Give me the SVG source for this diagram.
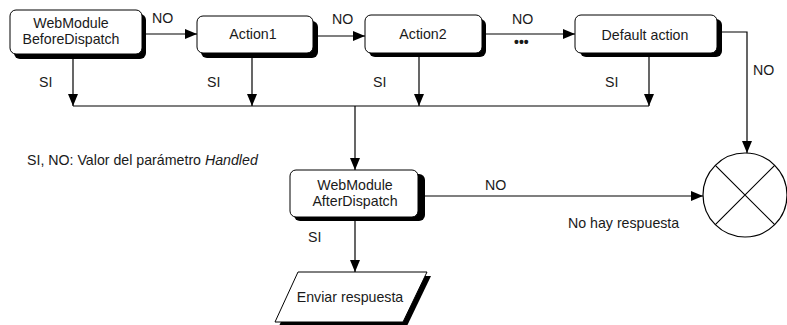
<svg xmlns="http://www.w3.org/2000/svg" width="787" height="325" viewBox="0 0 787 325">
<style>
text{font-family:"Liberation Sans",Arial,sans-serif;font-size:14.2px;fill:#1a1a1a}
.c{text-anchor:middle}
.box{fill:#fff;stroke:#000;stroke-width:1}
.sh{fill:#000}
.ln{fill:none;stroke:#000;stroke-width:1.2}
</style>
<defs>
<marker id="ah" viewBox="0 0 12 10" refX="12" refY="5" markerWidth="12" markerHeight="10" markerUnits="userSpaceOnUse" orient="auto">
<path d="M0,0 L12,5 L0,10 Z" fill="#000"/>
</marker>
</defs>
<rect width="787" height="325" fill="#fff"/>
<g id="connectors">
<path class="ln" d="M146,34 H197" marker-end="url(#ah)"/>
<path class="ln" d="M318,36 H365" marker-end="url(#ah)"/>
<path class="ln" d="M486,34 H575" marker-end="url(#ah)"/>
<path class="ln" d="M722,32 H747 V153" marker-end="url(#ah)"/>
<path class="ln" d="M73,59 V106" marker-end="url(#ah)"/>
<path class="ln" d="M252,58 V106" marker-end="url(#ah)"/>
<path class="ln" d="M419,57 V106" marker-end="url(#ah)"/>
<path class="ln" d="M649,57 V106" marker-end="url(#ah)"/>
<path class="ln" d="M73,106 H649"/>
<path class="ln" d="M355,106 V170" marker-end="url(#ah)"/>
<path class="ln" d="M355,221 V272" marker-end="url(#ah)"/>
<path class="ln" d="M422,196 H703" marker-end="url(#ah)"/>
<text x="152" y="23">NO</text>
<text x="332" y="24">NO</text>
<text x="512" y="24">NO</text>
<text x="514" y="47" style="font-size:14px;font-weight:bold">•••</text>
<text x="753" y="75">NO</text>
<text x="39" y="87">SI</text>
<text x="207" y="87">SI</text>
<text x="373" y="87">SI</text>
<text x="605" y="87">SI</text>
<text x="308" y="242">SI</text>
<text x="485" y="190">NO</text>
<text x="568" y="228">No hay respuesta</text>
</g>
<g id="legend">
<text x="27" y="165">SI, NO: Valor del parámetro <tspan font-style="italic">Handled</tspan></text>
</g>
<g id="before">
<rect class="sh" x="14" y="14" width="132" height="45" rx="6"/>
<rect class="box" x="10" y="10" width="132" height="44" rx="6"/>
<text class="c" x="71" y="28">WebModule</text>
<text class="c" x="71" y="44">BeforeDispatch</text>
</g>
<g id="action1">
<rect class="sh" x="201" y="21" width="117" height="37" rx="6"/>
<rect class="box" x="197" y="16" width="116" height="37" rx="6"/>
<text class="c" x="253" y="39">Action1</text>
</g>
<g id="action2">
<rect class="sh" x="369" y="19" width="117" height="38" rx="6"/>
<rect class="box" x="365" y="15" width="117" height="38" rx="6"/>
<text class="c" x="423" y="39">Action2</text>
</g>
<g id="default">
<rect class="sh" x="580" y="19" width="142" height="38" rx="6"/>
<rect class="box" x="575" y="15" width="142" height="38" rx="6"/>
<text class="c" x="645" y="40">Default action</text>
</g>
<g id="after">
<rect class="sh" x="294" y="174" width="131" height="47" rx="6"/>
<rect class="box" x="290" y="170" width="128" height="47" rx="6"/>
<text class="c" x="355" y="190">WebModule</text>
<text class="c" x="355" y="206">AfterDispatch</text>
</g>
<g id="enviar">
<polygon class="sh" points="302,276 431,276 407,326 279,326"/>
<polygon class="box" points="298,272 427,272 403,322 275,322"/>
<text class="c" x="350" y="302">Enviar respuesta</text>
</g>
<g id="noresp">
<circle cx="745" cy="195" r="42" fill="#fff" stroke="#000" stroke-width="1.2"/>
<path class="ln" d="M715.3,165.3 L774.7,224.7 M774.7,165.3 L715.3,224.7"/>
</g>
</svg>
